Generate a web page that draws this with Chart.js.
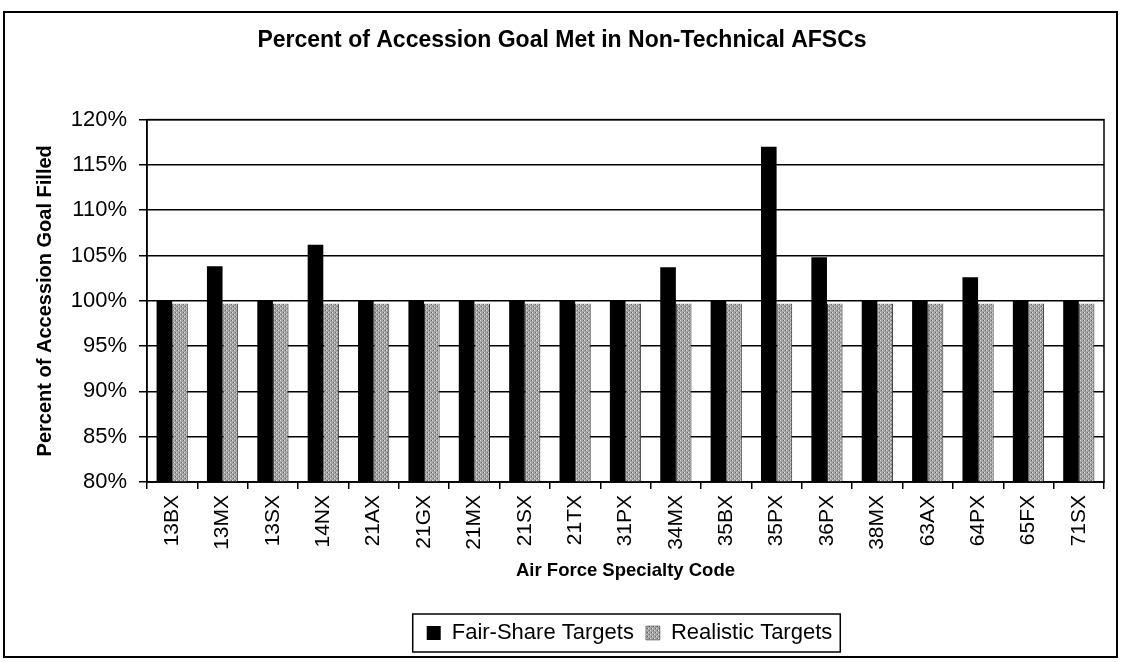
<!DOCTYPE html>
<html>
<head>
<meta charset="utf-8">
<script src="https://cdn.jsdelivr.net/npm/chart.js@4.4.0/dist/chart.umd.min.js"></script>
<style>
  html, body { margin: 0; padding: 0; background: #fff; }
  #wrap { position: relative; width: 1121px; height: 662px; }
</style>
</head>
<body>
<div id="wrap"><canvas id="accessionChart" width="1121" height="662"></canvas></div>
<script>
// Chart data
const categories = ['13BX', '13MX', '13SX', '14NX', '21AX', '21GX', '21MX', '21SX', '21TX', '31PX',
                    '34MX', '35BX', '35PX', '36PX', '38MX', '63AX', '64PX', '65FX', '71SX'];
const fairShareTargets = [100, 103.8, 100, 106.2, 100, 100, 100, 100, 100, 100,
                          103.7, 100, 117.0, 104.8, 100, 100, 102.6, 100, 100];
const realisticTargets = [99.7, 99.7, 99.7, 99.7, 99.7, 99.7, 99.7, 99.7, 99.7, 99.7,
                          99.7, 99.7, 99.7, 99.7, 99.7, 99.7, 99.7, 99.7, 99.7];
const yTicks = [80, 85, 90, 95, 100, 105, 110, 115, 120];

const FONT = 'Liberation Sans, Arial, sans-serif';

// Stippled gray fill for the realistic series
function makeStipple() {
    const c = document.createElement('canvas');
    c.width = 4;
    c.height = 4;
    const g = c.getContext('2d');
    g.fillStyle = '#a4a4a4';
    g.fillRect(0, 0, 4, 4);
    g.fillStyle = '#dcdcdc';
    g.fillRect(0, 0, 1, 1);
    g.fillRect(2, 2, 1, 1);
    g.fillStyle = '#666';
    g.fillRect(1, 2, 1, 1);
    g.fillRect(3, 0, 1, 1);
    return g.createPattern(c, 'repeat');
}

// Outer frame, plot border and legend box
const framePlugin = {
    id: 'framePlugin',
    afterUpdate(chart) {
        // centre the legend under the plot area, as in the original
        const lg = chart.legend;
        const a = chart.chartArea;
        const dx = (a.left + a.right) / 2 + 4 - (lg.left + lg.right) / 2;
        lg.left += dx;
        lg.right += dx;
    },
    afterDraw(chart) {
        const ctx = chart.ctx;
        const a = chart.chartArea;
        const lg = chart.legend;
        ctx.save();
        ctx.strokeStyle = '#000';
        ctx.lineWidth = 1.5;
        ctx.strokeRect(a.left, a.top, a.right - a.left, a.bottom - a.top);
        ctx.lineWidth = 2;
        ctx.strokeRect(4, 12, 1113, 645);
        // legend box
        const w = lg.lineWidths ? lg.lineWidths[0] : 0;
        const x0 = (lg.left + lg.right) / 2 - w / 2;
        ctx.lineWidth = 1.5;
        ctx.strokeRect(x0 - 8, lg.top + 4, w + 10, lg.bottom - lg.top - 6);
        ctx.restore();
    }
};

const ctx = document.getElementById('accessionChart').getContext('2d');
const stipple = makeStipple();

new Chart(ctx, {
    type: 'bar',
    data: {
        labels: categories,
        datasets: [
            {
                label: 'Fair-Share Targets',
                data: fairShareTargets,
                backgroundColor: '#000',
                borderColor: '#000',
                borderWidth: 0,
                barPercentage: 1.0,
                categoryPercentage: 0.62
            },
            {
                label: 'Realistic Targets',
                data: realisticTargets,
                backgroundColor: stipple,
                borderColor: '#333',
                borderWidth: { left: 1, right: 1, top: 0, bottom: 0 },
                barPercentage: 1.0,
                categoryPercentage: 0.62
            }
        ]
    },
    options: {
        responsive: false,
        animation: false,
        layout: { padding: { left: 20, right: 17, top: 0, bottom: 8 } },
        plugins: {
            title: {
                display: true,
                text: 'Percent of Accession Goal Met in Non-Technical AFSCs',
                color: '#000',
                font: { family: FONT, size: 23, weight: 'bold' },
                padding: { top: 27, bottom: 65 }
            },
            legend: {
                position: 'bottom',
                labels: {
                    color: '#000',
                    font: { family: FONT, size: 22 },
                    boxWidth: 14,
                    boxHeight: 14,
                    padding: 12
                }
            },
            tooltip: { enabled: false }
        },
        scales: {
            x: {
                afterFit(scale) {
                    scale.height = 128;
                },
                grid: {
                    offset: true,
                    drawOnChartArea: false,
                    drawTicks: true,
                    tickLength: 7,
                    color: '#000',
                    lineWidth: 1.5
                },
                border: { color: '#000', width: 1.5 },
                ticks: {
                    color: '#000',
                    font: { family: FONT, size: 21 },
                    minRotation: 90,
                    maxRotation: 90,
                    padding: 6,
                    autoSkip: false
                },
                title: {
                    display: true,
                    text: 'Air Force Specialty Code',
                    color: '#000',
                    font: { family: FONT, size: 18.5, weight: 'bold' },
                    padding: { top: 4, bottom: 28 }
                }
            },
            y: {
                min: yTicks[0],
                max: yTicks[yTicks.length - 1],
                afterBuildTicks(scale) {
                    scale.ticks = yTicks.map(v => ({ value: v }));
                },
                afterFit(scale) {
                    scale.width = 127;
                },
                grid: {
                    color: '#000',
                    lineWidth: 1.5,
                    tickLength: 8
                },
                border: { color: '#000', width: 1.5 },
                ticks: {
                    color: '#000',
                    font: { family: FONT, size: 22 },
                    padding: 12,
                    callback: v => v + '%'
                },
                title: {
                    display: true,
                    text: 'Percent of Accession Goal Filled',
                    color: '#000',
                    font: { family: FONT, size: 20, weight: 'bold' },
                    padding: { top: 13, bottom: 8 }
                }
            }
        }
    },
    plugins: [framePlugin]
});
</script>
</body>
</html>
